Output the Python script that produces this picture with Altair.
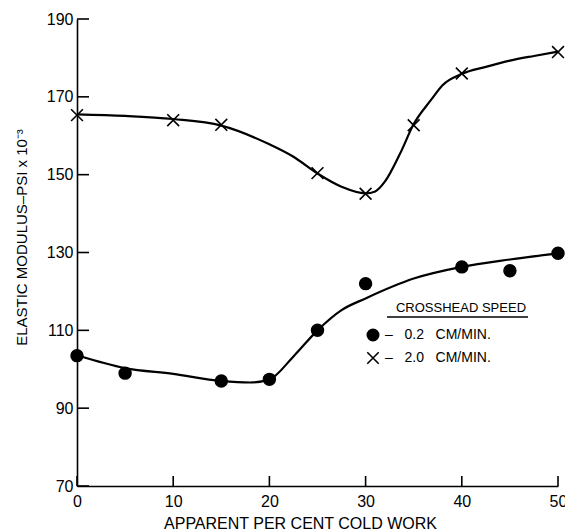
import altair as alt
import pandas as pd

# ---- data ----
speeds = ["0.2 CM/MIN.", "2.0 CM/MIN."]

slow_x = [0, 5, 15, 20, 25, 30, 40, 45, 50]
slow_y = [103.5, 99.0, 97.0, 97.4, 110.0, 122.0, 126.3, 125.3, 129.8]

fast_x = [0, 10, 15, 25, 30, 35, 40, 50]
fast_y = [165.3, 164.0, 162.8, 150.4, 145.1, 162.7, 176.0, 181.5]

# hand-drawn fitted curves (knots)
slow_curve_x = [0, 5, 10, 15, 18, 20, 22.5, 25, 27.5, 30, 35, 40, 45, 50]
slow_curve_y = [103.6, 100.3, 98.8, 97.0, 96.6, 97.4, 103.3, 110.0, 115.2, 118.2, 123.3, 126.3, 128.2, 129.8]

fast_curve_x = [0, 5, 10, 15, 20, 22.5, 25, 27.5, 30, 31, 32, 33.6, 35, 36.8, 38, 40, 42.5, 45, 47.5, 50]
fast_curve_y = [165.5, 165.1, 164.3, 162.6, 157.8, 154.6, 150.3, 146.9, 145.2, 145.7, 148.2, 155.5, 163.0,
                169.2, 173.0, 175.9, 177.7, 179.3, 180.5, 181.6]

x_ticks = [0, 10, 20, 30, 40, 50]
y_ticks = [70, 90, 110, 130, 150, 170, 190]

W, H = 481, 467
FONT = "Liberation Sans"
NB = "\u00a0"

points = pd.DataFrame({
    "x": slow_x + fast_x,
    "y": slow_y + fast_y,
    "speed": [speeds[0]] * len(slow_x) + [speeds[1]] * len(fast_x),
})
curves = pd.DataFrame({
    "x": slow_curve_x + fast_curve_x,
    "y": slow_curve_y + fast_curve_y,
    "speed": [speeds[0]] * len(slow_curve_x) + [speeds[1]] * len(fast_curve_x),
})

xscale = alt.Scale(domain=[0, 50], nice=False, zero=False)
yscale = alt.Scale(domain=[70, 190], nice=False, zero=False)

xaxis = alt.Axis(
    values=x_ticks, ticks=False, tickSize=0, grid=False,
    domainColor="black", domainWidth=1.6,
    labelFont=FONT, labelFontSize=16, labelColor="black", labelPadding=7,
    labelFlush=False, labelOverlap=False, labelBound=False,
    title="APPARENT PER CENT COLD WORK", titleFont=FONT, titleFontSize=16,
    titleFontWeight="normal", titleColor="black",
    titleX=223, titleY=42, titleAlign="center", titleBaseline="alphabetic",
)
yaxis = alt.Axis(
    values=y_ticks, ticks=False, tickSize=0, grid=False,
    domainColor="black", domainWidth=1.6,
    labelFont=FONT, labelFontSize=16, labelColor="black", labelPadding=4,
    labelFlush=False, labelOverlap=False, labelBound=False,
    title="ELASTIC MODULUS–PSI x 10⁻³", titleFont=FONT, titleFontSize=15,
    titleFontWeight="normal", titleColor="black",
    titleX=-56, titleY=218, titleAngle=270, titleAlign="center", titleBaseline="middle",
)

X = alt.X("x:Q", scale=xscale, axis=xaxis)
Y = alt.Y("y:Q", scale=yscale, axis=yaxis)

lines = alt.Chart(curves).mark_line(
    interpolate="monotone", color="black", strokeWidth=2.2
).encode(x=X, y=Y, detail="speed:N")

leg = alt.Legend(
    title=None, orient="none", legendX=289, legendY=309,
    labelExpr="'–" + NB * 3 + "' + replace(datum.label, ' ', '" + NB * 3 + "')",
    labelFont=FONT, labelFontSize=14, labelColor="black",
    labelOffset=5, rowPadding=5, padding=0,
    symbolSize=130, symbolStrokeWidth=1.6,
)

pts = alt.Chart(points).mark_point(opacity=1, strokeWidth=1.6).encode(
    x=X, y=Y,
    shape=alt.Shape("speed:N", scale=alt.Scale(domain=speeds, range=["circle", "M-1,-1L1,1M-1,1L1,-1"]),
                    legend=leg),
    fill=alt.Fill("speed:N", scale=alt.Scale(domain=speeds, range=["black", "transparent"]), legend=leg),
    stroke=alt.Stroke("speed:N", scale=alt.Scale(domain=speeds, range=["black", "black"]), legend=leg),
    size=alt.value(140),
)

tick_df_y = pd.DataFrame({"y": y_ticks})
tick_df_x = pd.DataFrame({"x": x_ticks})

yt = alt.Chart(tick_df_y).mark_rule(color="black", strokeWidth=1.6).encode(
    y=Y, x=alt.value(0), x2=alt.value(12))
xt = alt.Chart(tick_df_x).mark_rule(color="black", strokeWidth=1.6).encode(
    x=X, y=alt.value(H), y2=alt.value(H - 10))

legend_title = alt.Chart(pd.DataFrame({"t": ["CROSSHEAD SPEED"]})).mark_text(
    font=FONT, fontSize=13, color="black", align="center", baseline="middle"
).encode(text="t:N", x=alt.value(384), y=alt.value(289))
underline = alt.Chart(pd.DataFrame({"t": ["u"]})).mark_rule(color="black", strokeWidth=1.4).encode(
    x=alt.value(310), x2=alt.value(451), y=alt.value(298))

chart = alt.layer(lines, yt, xt, pts, legend_title, underline).properties(
    width=W, height=H,
    padding={"left": 77, "top": 19, "right": 7, "bottom": 45},
    autosize=alt.AutoSizeParams(type="none"),
    background="white",
).configure_view(stroke=None)

chart.save("out.html", embed_options={"renderer": "svg", "actions": False})
